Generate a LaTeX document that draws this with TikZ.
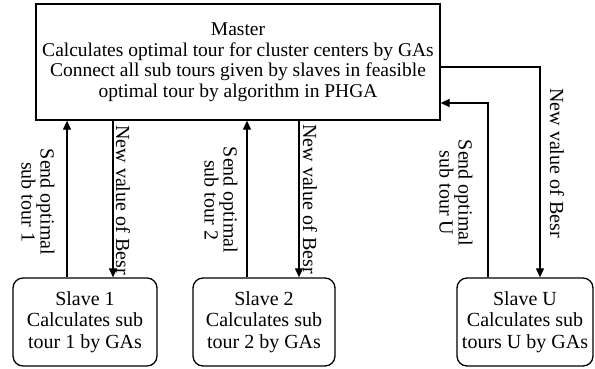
\documentclass[tikz,border=0pt]{standalone}
\usepackage{fontspec}
\setmainfont{Liberation Serif}
\usetikzlibrary{arrows.meta,calc}
\begin{document}
\begin{tikzpicture}[x=1pt,y=-1pt,
  box/.style={draw,line width=1.3pt,align=center,inner sep=0pt},
  slavebox/.style={box,rounded corners=10pt,minimum height=88pt,font=\fontsize{20}{21.5}\selectfont},
  arr/.style={line width=1.2pt,-{Triangle[length=9pt,width=8pt]}},
  lbl/.style={rotate=-90,align=center,font=\fontsize{20}{19}\selectfont,inner sep=0pt}]
\useasboundingbox (0,0) rectangle (595,368);
\node[box,minimum width=404pt,minimum height=116pt,font=\fontsize{19.5}{20.5}\selectfont] (m) at (238,62)
  {Master\\Calculates optimal tour for cluster centers by GAs\\Connect all sub tours given by slaves in feasible\\optimal tour by algorithm in PHGA};
\node[slavebox,minimum width=144pt] (s1) at (85,322) {Slave 1\\Calculates sub\\tour 1 by GAs};
\node[slavebox,minimum width=142pt] (s2) at (264,322) {Slave 2\\Calculates sub\\tour 2 by GAs};
\node[slavebox,minimum width=136pt] (su) at (525,322) {Slave U\\Calculates sub\\tours U by GAs};
% slave 1
\draw[arr] (s1.north -| 67,0) -- (m.south -| 67,0);
\draw[arr] (m.south -| 113,0) -- (s1.north -| 113,0);
% slave 2
\draw[arr] (s2.north -| 247,0) -- (m.south -| 247,0);
\draw[arr] (m.south -| 299,0) -- (s2.north -| 299,0);
% slave U
\draw[arr] (su.north -| 488,0) -- (488,103) -- (m.east |- 0,103);
\draw[arr] (m.east |- 0,67) -- (540,67) -- (su.north -| 540,0);
% labels
\node[lbl] (l1) at (38,202) {Send optimal\\sub tour 1};
\node[lbl] (l2) at (123,200) {New value of Besr};
\node[lbl] (l3) at (221,200) {Send optimal\\sub tour 2};
\node[lbl] (l4) at (310,199) {New value of Besr};
\node[lbl] (l5) at (456,193) {Send optimal\\sub tour U};
\node[lbl] (l6) at (557,163) {New value of Besr};
\end{tikzpicture}
\end{document}
